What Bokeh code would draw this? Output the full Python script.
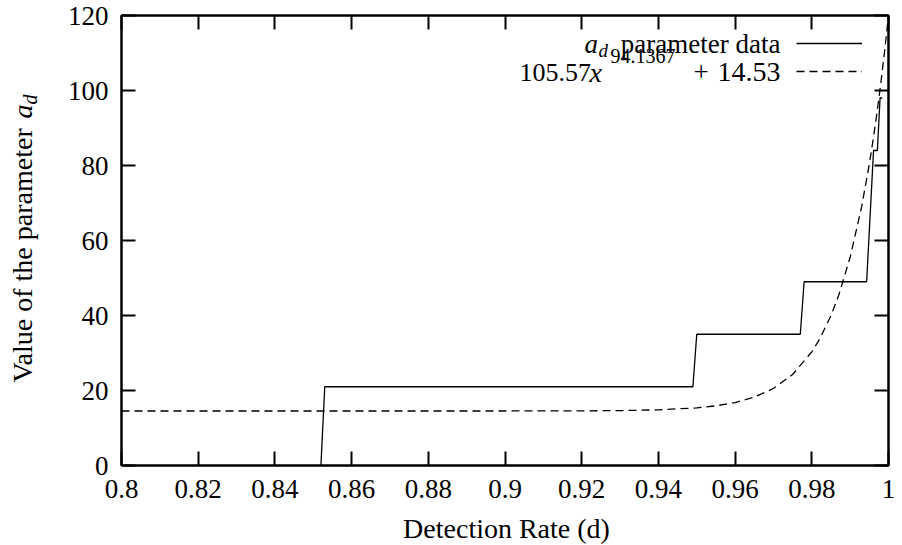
import math
from bokeh.plotting import figure
from bokeh.layouts import row, column
from bokeh.models import (Range1d, FixedTicker, LinearAxis, Label, Legend,
                          LegendItem)
from bokeh.embed import file_html
from bokeh.resources import INLINE

# ---------------- data ----------------
step_x = [0.852, 0.853, 0.949, 0.950, 0.977, 0.978, 0.9943, 0.9961, 0.9971, 0.9978, 0.9984]
step_y = [0, 21, 21, 35, 35, 49, 49, 84, 84, 98, 98]

fit_x = [0.80, 0.85, 0.90, 0.92, 0.93, 0.94, 0.95, 0.955, 0.96, 0.965, 0.97,
         0.975, 0.98, 0.982, 0.985, 0.987, 0.99, 0.993, 0.995, 0.996, 0.997,
         0.998, 0.999, 0.9995, 1.0]
fit_y = [14.53, 14.53, 14.54, 14.57, 14.64, 14.84, 15.37, 15.91, 16.79, 18.22,
         20.53, 24.27, 30.30, 33.63, 39.97, 45.33, 55.52, 69.02, 80.39, 86.92,
         94.09, 101.97, 110.61, 115.24, 120.10]

x_ticks = [0.8, 0.82, 0.84, 0.86, 0.88, 0.9, 0.92, 0.94, 0.96, 0.98, 1.0]
x_tick_labels = ["0.8", "0.82", "0.84", "0.86", "0.88", "0.9", "0.92",
                 "0.94", "0.96", "0.98", "1"]
y_ticks = [0, 20, 40, 60, 80, 100, 120]
y_tick_labels = ["0", "20", "40", "60", "80", "100", "120"]

x_label = "Detection Rate (d)"
y_label = "Value of the parameter"
legend_1 = "parameter data"
fit_coef = "105.57"
fit_exp = "94.1367"
fit_const = "14.53"

# ---------------- layout (canvas pixels) ----------------
TOTAL_W, TOTAL_H = 900, 544
STRIP_W = 61            # left strip holding the y-axis title
BOTTOM_H = 32           # bottom strip holding the x-axis title
MAIN_W = TOTAL_W - STRIP_W
MAIN_H = TOTAL_H - BOTTOM_H
FL, FR, FT, FB = 121, 888, 15, 465   # plot frame, page coordinates
FONT = "Liberation Serif"
BASE_FIX = 0.3          # label baseline correction, in em


def bare_figure(w, h):
    f = figure(width=w, height=h, x_range=Range1d(0, w), y_range=Range1d(h, 0),
               output_backend="svg", toolbar_location=None,
               x_axis_type=None, y_axis_type=None,
               min_border_left=0, min_border_right=0,
               min_border_top=0, min_border_bottom=0)
    f.outline_line_color = None
    f.background_fill_color = "white"
    f.border_fill_color = "white"
    return f


p = figure(width=MAIN_W, height=MAIN_H, x_range=Range1d(0.8, 1.0),
           y_range=Range1d(0, 120),
           output_backend="svg", toolbar_location=None,
           x_axis_type=None, y_axis_type=None,
           min_border_left=FL - STRIP_W, min_border_right=TOTAL_W - FR,
           min_border_top=FT, min_border_bottom=MAIN_H - FB)
p.background_fill_color = "white"
p.border_fill_color = "white"
p.outline_line_color = "black"
p.outline_line_width = 2


def make_axis(ticks, labels, show_labels):
    ax = LinearAxis(ticker=FixedTicker(ticks=ticks))
    ax.axis_line_color = "black"
    ax.axis_line_width = 2
    ax.major_tick_line_color = "black"
    ax.major_tick_line_width = 2
    ax.major_tick_in = 14
    ax.major_tick_out = 0
    ax.minor_tick_line_color = None
    ax.major_label_text_font = FONT
    if show_labels:
        ax.major_label_overrides = {t: l for t, l in zip(ticks, labels)}
        ax.major_label_text_color = "black"
        ax.major_label_text_font_size = "27px"
    else:
        # mirror axis: ticks only, labels not drawn
        ax.major_label_text_color = None
        ax.major_label_text_font_size = "1px"
        ax.major_label_standoff = 0
    return ax


bx = make_axis(x_ticks, x_tick_labels, True)
bx.major_label_standoff = 14
lx = make_axis(y_ticks, y_tick_labels, True)
lx.major_label_standoff = 13
p.add_layout(bx, "below")
p.add_layout(lx, "left")
p.add_layout(make_axis(x_ticks, x_tick_labels, False), "above")
p.add_layout(make_axis(y_ticks, y_tick_labels, False), "right")

# ---------------- series ----------------
r1 = p.line(step_x, step_y, line_color="black", line_width=1.3)
r2 = p.line(fit_x, fit_y, line_color="black", line_width=1.3, line_dash="8 5")

legend = Legend(items=[LegendItem(label=" ", renderers=[r1]),
                       LegendItem(label=" ", renderers=[r2])],
                location=(675, 384), glyph_width=66, glyph_height=20,
                label_height=20, label_width=0, label_standoff=0,
                padding=0, margin=0, spacing=8,
                border_line_color=None, background_fill_alpha=0,
                label_text_font_size="1px")
p.add_layout(legend)


# --------------- text annotations ---------------
def lab(fig, text, cx, cy, size, style="normal", align="left", angle=0.0):
    fix = BASE_FIX * size
    if angle:
        cx -= fix
    else:
        cy -= fix
    fig.add_layout(Label(x=cx, y=cy, x_units="canvas", y_units="canvas",
                         text=text, text_font=FONT,
                         text_font_size=f"{size}px", text_font_style=style,
                         text_align=align, text_baseline="alphabetic",
                         text_color="black", angle=angle))


# legend texts (main figure canvas: page x minus the strip width)
def leg(text, px, py, size, style="normal", align="left"):
    lab(p, text, px - STRIP_W, py, size, style=style, align=align)


leg("a", 584, 52, 27, style="italic")
leg("d", 598, 56, 19, style="italic")
leg(legend_1, 780, 52, 27, align="right")
leg(fit_coef, 519, 80, 26)
leg("x", 589, 80, 28, style="italic")
leg(fit_exp, 610, 61, 20)
leg("+", 693, 80, 27)
leg(fit_const, 780, 80, 28, align="right")

# y axis title (left strip)
ystrip = bare_figure(STRIP_W, MAIN_H)
lab(ystrip, y_label, 30, 382, 28, angle=math.pi / 2)
lab(ystrip, "a", 30, 118, 28, style="italic", angle=math.pi / 2)
lab(ystrip, "d", 35, 104, 20, style="italic", angle=math.pi / 2)

# x axis title (bottom strip)
xstrip = bare_figure(TOTAL_W, BOTTOM_H)
lab(xstrip, x_label, 506, 536 - MAIN_H, 28, align="center")

layout = column(row(ystrip, p, spacing=0), xstrip, spacing=0)

open("out.html", "w").write(file_html(layout, INLINE))
